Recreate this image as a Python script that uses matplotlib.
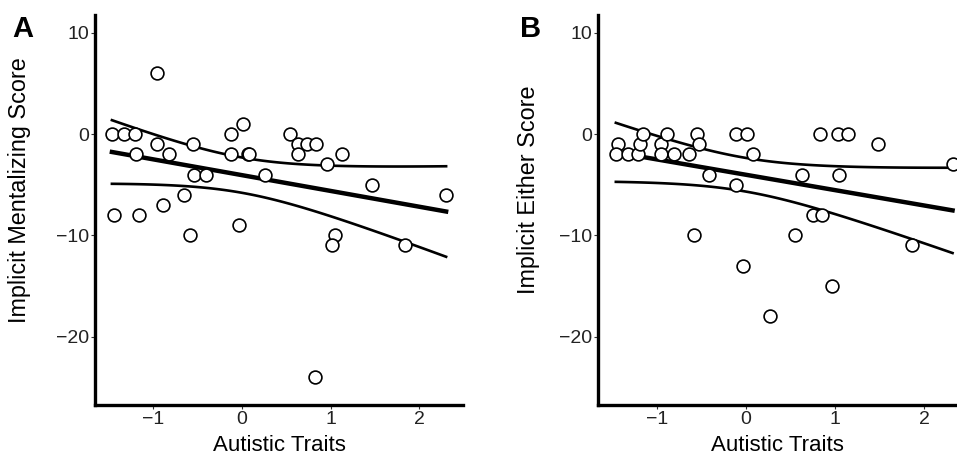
import numpy as np
import matplotlib
matplotlib.use('Agg')
from matplotlib import pyplot as plt

plt.rcParams['font.family'] = ['Liberation Sans', 'DejaVu Sans']

# Panel A: autistic traits vs implicit mentalizing score
traits_a = [-1.46, -1.32, -1.20, -1.19, -0.95, -0.955, -0.82, -0.55, -0.54, -0.40,
            -0.65, -0.89, -1.44, -1.15, -0.12, 0.01, -0.12, 0.07, -0.03, -0.58,
            0.08, 0.26, 0.54, 0.63, 0.74, 0.84, 0.63, 1.13, 0.955, 1.47,
            2.30, 1.05, 1.02, 1.84, 0.82]
mental_a = [0, 0, 0, -2, 6, -1, -2, -1, -4, -4,
            -6, -7, -8, -8, 0, 1, -2, -2, -9, -10,
            -2, -4, 0, -1, -1, -1, -2, -2, -3, -5,
            -6, -10, -11, -11, -24]

# Panel B: autistic traits vs implicit either score
traits_b = [-1.44, -1.46, -1.32, -1.21, -1.19, -1.15, -0.95, -0.95, -0.89, -0.81,
            -0.64, -0.55, -0.53, -0.41, -0.11, -0.11, 0.01, 0.08, -0.58, -0.03,
            0.27, 0.55, 0.63, 0.75, 0.83, 0.86, 0.97, 1.03, 1.05, 1.15,
            1.48, 1.86, 2.32]
either_b = [-1, -2, -2, -2, -1, 0, -1, -2, 0, -2,
            -2, 0, -1, -4, -5, 0, 0, -2, -10, -13,
            -18, -10, -4, -8, 0, -8, -15, 0, -4, 0,
            -1, -11, -3]

xticks = [-1, 0, 1, 2]
yticks = [-20, -10, 0, 10]


def lm_band(x, y, t=2.04):
    # linear fit with 95% confidence band, like geom_smooth(method='lm')
    x = np.asarray(x, float)
    y = np.asarray(y, float)
    n = len(x)
    slope, icpt = np.polyfit(x, y, 1)
    resid = y - (icpt + slope * x)
    s = np.sqrt(np.sum(resid ** 2) / (n - 2))
    xs = np.linspace(x.min(), x.max(), 100)
    fit = icpt + slope * xs
    se = s * np.sqrt(1.0 / n + (xs - x.mean()) ** 2 / np.sum((x - x.mean()) ** 2))
    return xs, fit, fit - t * se, fit + t * se


def panel(ax, x, y, ylabel, letter, xlim, ylab_x, letter_x):
    xs, fit, lo, hi = lm_band(x, y)
    ax.plot(xs, hi, color='black', lw=1.9, zorder=2)
    ax.plot(xs, lo, color='black', lw=1.9, zorder=2)
    ax.plot(xs, fit, color='black', lw=3.2, zorder=2)
    ax.scatter(x, y, s=85, facecolors='white', edgecolors='black', linewidths=1.2, zorder=3)
    ax.set_xlim(*xlim)
    ax.set_ylim(-26.75, 11.75)
    ax.set_xticks(xticks)
    ax.set_yticks(yticks)
    ax.set_yticklabels(['\u221220', '\u221210', '0', '10'])
    ax.set_xticklabels(['\u22121', '0', '1', '2'])
    for side in ['top', 'right']:
        ax.spines[side].set_visible(False)
    for side in ['left', 'bottom']:
        ax.spines[side].set_linewidth(2.4)
    ax.tick_params(length=3, width=0.8, color='#333333', labelsize=14,
                   labelcolor='#222222', pad=1.5)
    ax.set_xlabel('Autistic Traits', fontsize=16)
    ax.xaxis.set_label_coords(0.5, -0.077)
    ax.set_ylabel(ylabel, fontsize=16.8)
    ax.yaxis.set_label_coords(ylab_x, 0.551)
    ax.text(letter_x, 1.0, letter, transform=ax.transAxes, fontsize=21,
            fontweight='bold', va='top', ha='left')


fig = plt.figure(figsize=(9.57, 4.61), dpi=100)
ax1 = fig.add_axes([0.0993, 0.1215, 0.3845, 0.846])
ax2 = fig.add_axes([0.6249, 0.1215, 0.3751, 0.846])

panel(ax1, traits_a, mental_a, 'Implicit Mentalizing Score', 'A', (-1.65, 2.49), -0.174, -0.226)
panel(ax2, traits_b, either_b, 'Implicit Either Score', 'B', (-1.66, 2.37), -0.162, -0.217)

fig.savefig('out.png', dpi=100)
